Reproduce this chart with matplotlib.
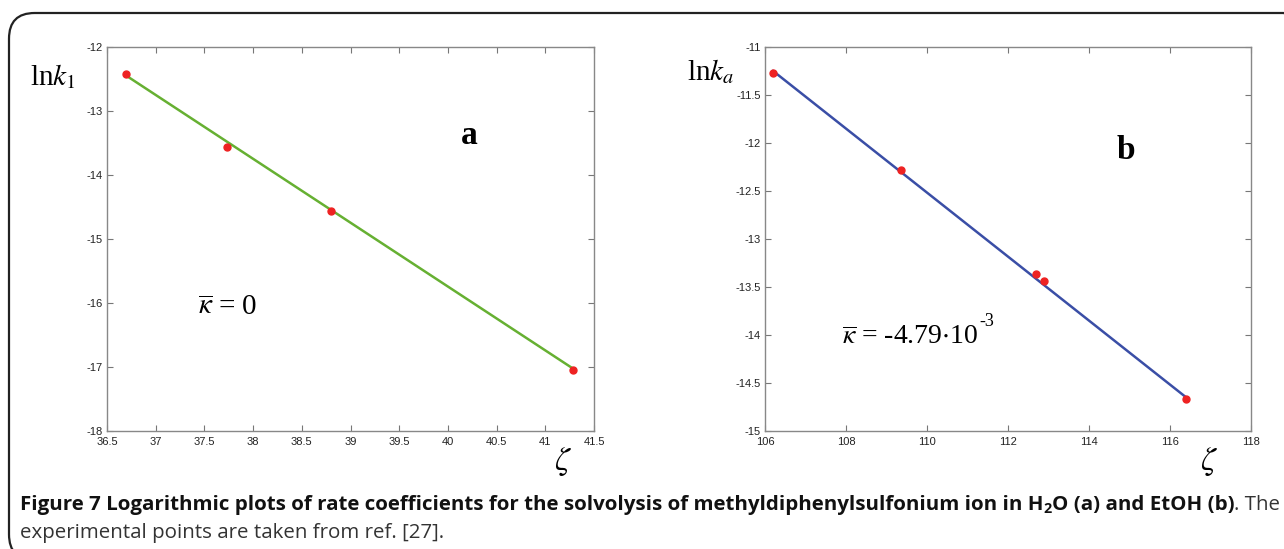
import matplotlib
matplotlib.use("Agg")
import matplotlib.pyplot as plt
from matplotlib.patches import FancyBboxPatch

# panel a: H2O
zeta_a = [36.7, 37.73, 38.8, 41.28]
lnk_a = [-12.42, -13.57, -14.56, -17.04]
zeta_fit_a = [36.7, 41.28]
lnk_fit_a = [-12.45, -17.02]

# panel b: EtOH
zeta_b = [106.2, 109.35, 112.7, 112.9, 116.4]
lnk_b = [-11.27, -12.28, -13.36, -13.44, -14.67]
zeta_fit_b = [106.2, 116.4]
lnk_fit_b = [-11.25, -14.65]

xticks_a = [36.5, 37, 37.5, 38, 38.5, 39, 39.5, 40, 40.5, 41, 41.5]
yticks_a = [-18, -17, -16, -15, -14, -13, -12]
xticks_b = [106, 108, 110, 112, 114, 116, 118]
yticks_b = [-15, -14.5, -14, -13.5, -13, -12.5, -12, -11.5, -11]

W, H = 1284, 549
fig = plt.figure(figsize=(W / 100, H / 100), dpi=100)
renderer = fig.canvas.get_renderer()


def fx(px):
    return px / W


def fy(py):
    return 1 - py / H


def setup(ax, xticks, yticks):
    ax.set_xlim(xticks[0], xticks[-1])
    ax.set_ylim(yticks[0], yticks[-1])
    ax.set_xticks(xticks)
    ax.set_yticks(yticks)
    ax.set_xticklabels(['%g' % v for v in xticks], family='Liberation Sans')
    ax.set_yticklabels(['%g' % v for v in yticks], family='Liberation Sans')
    ax.tick_params(direction='in', top=True, right=True, length=4, width=0.8,
                   color='#777777', labelsize=8, labelcolor='#222222')
    ax.tick_params(axis='x', pad=4)
    ax.tick_params(axis='y', pad=3)
    for s in ax.spines.values():
        s.set_color('#888888')
        s.set_linewidth(1.0)


ax_a = fig.add_axes([fx(107), fy(431), fx(594 - 107), (431 - 47) / H])
ax_a.plot(zeta_fit_a, lnk_fit_a, color='#66b032', lw=1.8, zorder=2)
ax_a.plot(zeta_a, lnk_a, 'o', color='#ee2222', ms=5, zorder=3)
setup(ax_a, xticks_a, yticks_a)

ax_b = fig.add_axes([fx(765), fy(431), fx(1251 - 765), (431 - 47) / H])
ax_b.plot(zeta_fit_b, lnk_fit_b, color='#3a4ea6', lw=1.8, zorder=2)
ax_b.plot(zeta_b, lnk_b, 'o', color='#ee2222', ms=5, zorder=3)
setup(ax_b, xticks_b, yticks_b)

plt.rcParams['mathtext.fontset'] = 'stix'
serif = 'Liberation Serif'

fig.text(fx(30), fy(77), r'ln$k_{\mathit{1}}$', fontsize=21, family=serif, va='center')
fig.text(fx(687), fy(72), r'ln$k_a$', fontsize=21, family=serif, va='center')
fig.text(fx(469), fy(136), 'a', fontsize=24, family=serif, weight='bold', ha='center', va='center')
fig.text(fx(1126), fy(150), 'b', fontsize=24, family=serif, weight='bold', ha='center', va='center')
fig.text(fx(198), fy(308), r'$\overline{\kappa}$ = 0', fontsize=21, family=serif, va='center')
kb = fig.text(fx(842), fy(337), r'$\overline{\kappa}$ = -4.79$\cdot$10', fontsize=20,
              family=serif, va='center')
ext = kb.get_window_extent(renderer)
fig.text(ext.x1 / W + fx(1), fy(322), '-3', fontsize=13, family=serif, va='center')
fig.text(fx(563), fy(462), r'$\zeta$', fontsize=24, ha='center', va='center')
fig.text(fx(1209), fy(462), r'$\zeta$', fontsize=24, ha='center', va='center')

# frame
box = FancyBboxPatch((fx(9), fy(560)), fx(1300), (560 - 13) / H,
                     boxstyle='round,pad=0,rounding_size=0.02', transform=fig.transFigure,
                     fill=False, ec='#222222', lw=1.6, clip_on=False,
                     mutation_aspect=W / H)
fig.patches.append(box)

# caption
cap_font = 'Open Sans'
pieces = [
    ("Figure 7 Logarithmic plots of rate coefficients for the solvolysis of "
     "methyldiphenylsulfonium ion in H", 'bold', 1.0, 0),
    ("2", 'bold', 0.7, -3),
    ("O (a) and EtOH (b)", 'bold', 1.0, 0),
    (". The", 'normal', 1.0, 0),
]
size = 11.0
total = 0
for txt, wt, sc, dy in pieces:
    t = fig.text(0, 0, txt, fontsize=size * sc, family=cap_font, weight=wt)
    total += t.get_window_extent(renderer).width
    t.remove()
size = size * (1277 - 20) / total
x = 20
for txt, wt, sc, dy in pieces:
    t = fig.text(fx(x), fy(510 - dy), txt, fontsize=size * sc, family=cap_font,
                 weight=wt, va='baseline', color='#111111' if wt == 'bold' else '#333333')
    x += t.get_window_extent(renderer).width
fig.text(fx(20), fy(538), "experimental points are taken from ref. [27].", fontsize=size,
         family=cap_font, va='baseline', color='#333333')

fig.savefig('out.png', dpi=100)
